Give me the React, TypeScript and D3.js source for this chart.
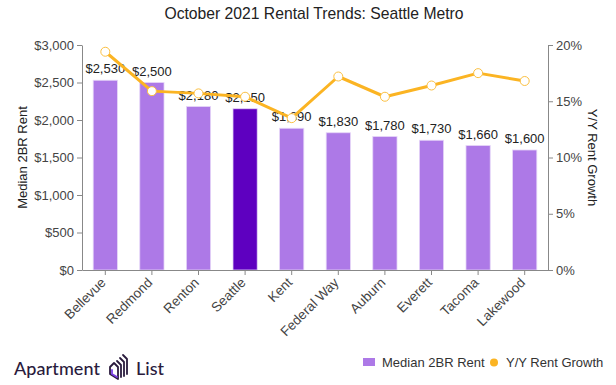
import React, { useEffect, useRef } from "react";
import * as d3 from "d3";

const cities = ["Bellevue", "Redmond", "Renton", "Seattle", "Kent", "Federal Way", "Auburn", "Everett", "Tacoma", "Lakewood"];
const rent = [2530, 2500, 2180, 2150, 1890, 1830, 1780, 1730, 1660, 1600];
const growth = [19.4, 15.9, 15.7, 15.4, 13.5, 17.2, 15.4, 16.4, 17.5, 16.8];
const rentTicks = [0, 500, 1000, 1500, 2000, 2500, 3000];
const growthTicks = [0, 5, 10, 15, 20];

const W = 616;
const H = 385;
const FONT = "'Liberation Sans', Arial, sans-serif";

export default function App() {
  const ref = useRef<SVGSVGElement>(null);

  useEffect(() => {
    const svg = d3.select(ref.current);
    svg.selectAll("*").remove();

    const left = 82, right = 548, top = 45, bottom = 270;

    const x = d3.scaleBand().domain(cities).range([left, right]).paddingInner(0.48).paddingOuter(0.24);
    const yL = d3.scaleLinear().domain([0, 3000]).range([bottom, top]);
    const yR = d3.scaleLinear().domain([0, 20]).range([bottom, top]);

    // title
    svg.append("text")
      .attr("x", 314).attr("y", 19)
      .attr("text-anchor", "middle")
      .style("font-size", "15.7px").style("fill", "#222")
      .text("October 2021 Rental Trends: Seattle Metro");

    // bars
    svg.append("g").selectAll("rect")
      .data(cities)
      .enter().append("rect")
      .attr("x", d => x(d)!)
      .attr("y", (d, i) => yL(rent[i]))
      .attr("width", x.bandwidth())
      .attr("height", (d, i) => bottom - yL(rent[i]))
      .attr("fill", d => d === "Seattle" ? "#5e00c0" : "#ad79e7")
      .attr("stroke", "#e6d6f8").attr("stroke-width", 0.8);

    // bar labels
    svg.append("g").selectAll("text")
      .data(cities)
      .enter().append("text")
      .attr("x", d => x(d)! + x.bandwidth() / 2)
      .attr("y", (d, i) => yL(rent[i]) - 7)
      .attr("text-anchor", "middle")
      .style("font-size", "13px").style("fill", "#222")
      .text((d, i) => "$" + d3.format(",")(rent[i]));

    // line
    const line = d3.line<number>()
      .x((d, i) => x(cities[i])! + x.bandwidth() / 2)
      .y(d => yR(d));
    svg.append("path")
      .datum(growth)
      .attr("d", line)
      .attr("fill", "none")
      .attr("stroke", "#fbb423")
      .attr("stroke-width", 3)
      .attr("stroke-linejoin", "round");
    svg.append("g").selectAll("circle")
      .data(growth)
      .enter().append("circle")
      .attr("cx", (d, i) => x(cities[i])! + x.bandwidth() / 2)
      .attr("cy", d => yR(d))
      .attr("r", 4.5)
      .attr("fill", "#fff")
      .attr("stroke", "#fbc042")
      .attr("stroke-width", 1);

    // axes
    const axisColor = "#888";
    const styleAxis = (g: any) => {
      g.select(".domain").attr("stroke", axisColor);
      g.selectAll(".tick line").attr("stroke", axisColor);
      g.selectAll(".tick text").style("font-size", "13px").style("fill", "#444").style("font-family", FONT);
    };

    svg.append("g")
      .attr("transform", `translate(${left},0)`)
      .call(d3.axisLeft(yL).tickValues(rentTicks).tickSize(5).tickSizeOuter(0).tickFormat(d => "$" + d3.format(",")(d as number)))
      .call(styleAxis);

    svg.append("g")
      .attr("transform", `translate(${right},0)`)
      .call(d3.axisRight(yR).tickValues(growthTicks).tickSize(5).tickSizeOuter(0).tickFormat(d => d + "%"))
      .call(styleAxis);

    const xa = svg.append("g")
      .attr("transform", `translate(0,${bottom})`)
      .call(d3.axisBottom(x).tickSize(5).tickSizeOuter(0))
      .call(styleAxis);
    xa.selectAll(".tick text")
      .style("font-size", "13.5px")
      .attr("text-anchor", "end")
      .attr("dy", "0.35em")
      .attr("transform", "translate(-2,10) rotate(-45)")
      .attr("x", 0).attr("y", 0);

    // axis titles
    svg.append("text")
      .attr("transform", `translate(27,${(top + bottom) / 2}) rotate(-90)`)
      .attr("text-anchor", "middle")
      .style("font-size", "13px").style("fill", "#222")
      .text("Median 2BR Rent");
    svg.append("text")
      .attr("transform", `translate(588,${(top + bottom) / 2}) rotate(90)`)
      .attr("text-anchor", "middle")
      .style("font-size", "13px").style("fill", "#222")
      .text("Y/Y Rent Growth");

    // legend
    const lg = svg.append("g").style("font-size", "13px").style("fill", "#333");
    lg.append("rect").attr("x", 363).attr("y", 358).attr("width", 12).attr("height", 8).attr("fill", "#ad79e7");
    lg.append("text").attr("x", 382).attr("y", 367).text("Median 2BR Rent");
    lg.append("circle").attr("cx", 494).attr("cy", 362.5).attr("r", 4).attr("fill", "#fbb423");
    lg.append("text").attr("x", 506).attr("y", 367).text("Y/Y Rent Growth");

    // logo
    const logo = svg.append("g").style("fill", "#2a1b3d");
    logo.append("text").attr("x", 14).attr("y", 375)
      .style("font-size", "18px").style("font-weight", "500").style("font-family", "Lato, 'Noto Sans', sans-serif")
      .attr("textLength", 86)
      .text("Apartment");
    const icon = logo.append("g").attr("fill", "none").attr("stroke-width", 1.8).attr("stroke-linecap", "round").attr("stroke-linejoin", "round");
    icon.append("path").attr("d", "M110,367 L114,363 L118,367 L118,379 L110,374 Z").attr("stroke", "#2a1b3d");
    icon.append("path").attr("d", "M112,370 L112,374 L117,377").attr("stroke", "#7b3fe4");
    icon.append("path").attr("d", "M117,361 L121,365 L121,377").attr("stroke", "#2a1b3d");
    icon.append("path").attr("d", "M120,358 L124,362 L124,376").attr("stroke", "#2a1b3d");
    icon.append("path").attr("d", "M123,355 L127,359 L127,374").attr("stroke", "#2a1b3d");
    logo.append("text").attr("x", 136).attr("y", 375)
      .style("font-size", "18px").style("font-weight", "500").style("font-family", "Lato, 'Noto Sans', sans-serif")
      .text("List");
  }, []);

  return (
    <svg ref={ref} width={W} height={H} style={{ position: "absolute", left: 0, top: 0, fontFamily: FONT, background: "#fff" }} />
  );
}
